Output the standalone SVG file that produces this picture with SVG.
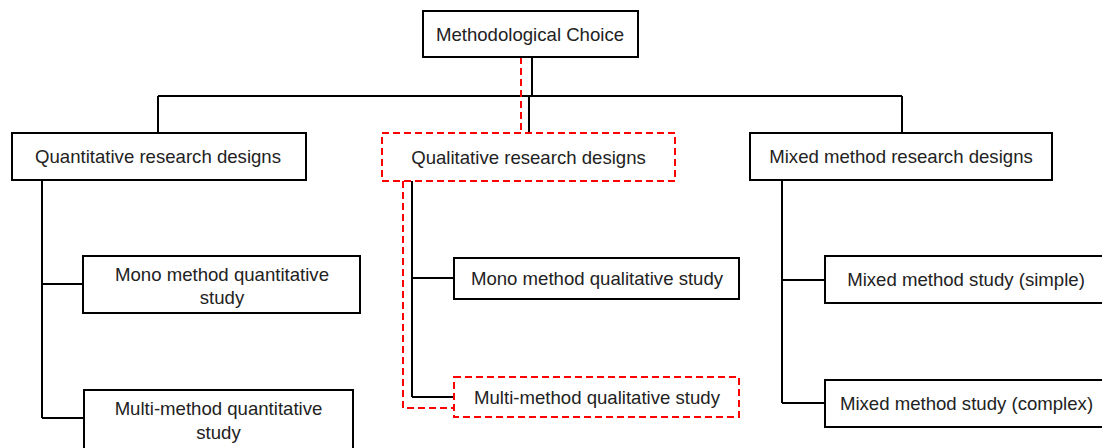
<svg xmlns="http://www.w3.org/2000/svg" width="1102" height="448" viewBox="0 0 1102 448">
  <style>
    .box { fill: #ffffff; stroke: #000000; stroke-width: 2; }
    .dash { fill: #ffffff; stroke: #ff0000; stroke-width: 2; stroke-dasharray: 7 4; }
    .line { fill: none; stroke: #000000; stroke-width: 2; }
    .redline { fill: none; stroke: #ff0000; stroke-width: 2; stroke-dasharray: 7 4; }
    text { font-family: "Liberation Sans", Arial, sans-serif; font-size: 18.6px; fill: #222222; text-anchor: middle; }
  </style>
  <rect width="1102" height="448" fill="#ffffff"/>

  <!-- connectors -->
  <g id="connectors">
    <path class="line" d="M532,57 V96 M158,96 H902 M158,96 V133 M529,96 V133 M902,96 V133"/>
    <path class="line" d="M42,180 V418 M42,284 H83 M42,418 H84"/>
    <path class="line" d="M412,181 V397 M412,278 H454 M412,397 H454"/>
    <path class="line" d="M782,180 V403 M782,280 H825 M782,403 H825"/>
    <path class="redline" d="M521,57 V133"/>
    <path class="redline" d="M403,181 V408 H454"/>
  </g>

  <g id="methodological-choice">
    <rect class="box" x="423" y="11" width="215" height="46"/>
    <text x="530" y="40.5">Methodological Choice</text>
  </g>

  <g id="quantitative">
    <rect class="box" x="12" y="133" width="294" height="47"/>
    <text x="158" y="163">Quantitative research designs</text>
  </g>

  <g id="qualitative">
    <rect class="dash" x="382" y="133" width="293" height="48"/>
    <text x="528.5" y="163.5">Qualitative research designs</text>
  </g>

  <g id="mixed">
    <rect class="box" x="750" y="133" width="302" height="47"/>
    <text x="901" y="163">Mixed method research designs</text>
  </g>

  <g id="mono-quantitative">
    <rect class="box" x="83" y="256" width="277" height="57"/>
    <text x="222" y="280.5">Mono method quantitative</text>
    <text x="222" y="303.5">study</text>
  </g>

  <g id="multi-quantitative">
    <rect class="box" x="84" y="390" width="269" height="70"/>
    <text x="218.5" y="414.5">Multi-method quantitative</text>
    <text x="218.5" y="438.5">study</text>
  </g>

  <g id="mono-qualitative">
    <rect class="box" x="454" y="258" width="285" height="41"/>
    <text x="597" y="285">Mono method qualitative study</text>
  </g>

  <g id="multi-qualitative">
    <rect class="dash" x="454" y="377" width="285" height="40"/>
    <text x="597" y="403.5">Multi-method qualitative study</text>
  </g>

  <g id="mixed-simple">
    <rect class="box" x="825" y="256" width="290" height="47"/>
    <text x="966" y="286">Mixed method study (simple)</text>
  </g>

  <g id="mixed-complex">
    <rect class="box" x="825" y="380" width="290" height="47"/>
    <text x="966.5" y="410">Mixed method study (complex)</text>
  </g>
</svg>
